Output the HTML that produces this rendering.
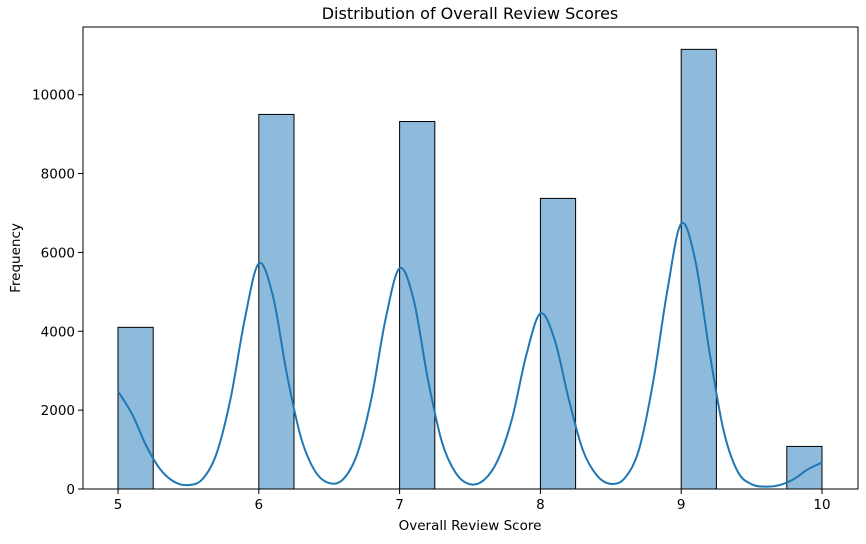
<!DOCTYPE html>
<html><head><meta charset="utf-8"><style>
html,body{margin:0;padding:0;background:#fff;}
svg text{font-family:"DejaVu Sans","Liberation Sans",sans-serif;fill:#000;}
</style></head><body>
<svg id="chart" width="866" height="539" xmlns="http://www.w3.org/2000/svg">
<text x="470" y="19" font-size="16" text-anchor="middle">Distribution of Overall Review Scores</text>
<text x="470" y="530" font-size="13.5" text-anchor="middle">Overall Review Score</text>
<text x="20" y="258" font-size="13.5" text-anchor="middle" transform="rotate(-90 20 258)">Frequency</text>
<g id="bars"></g>
<path id="kde" fill="none" stroke="#1f77b4" stroke-width="2"></path>
<rect x="83" y="27" width="775" height="462" fill="none" stroke="#000" stroke-width="1"></rect>
<g id="xticks"></g><g id="yticks"></g>
</svg>
<script>
const binStarts=[5,6,7,8,9,9.75];
const binCounts=[4100,9500,9320,7370,11150,1080];
const binWidth=0.25;
const kdeX=[5.0,5.1,5.2,5.3,5.4,5.5,5.6,5.7,5.8,5.9,6.0,6.1,6.2,6.3,6.4,6.5,6.6,6.7,6.8,6.9,7.0,7.1,7.2,7.3,7.4,7.5,7.6,7.7,7.8,7.9,8.0,8.1,8.2,8.3,8.4,8.5,8.6,8.7,8.8,8.9,9.0,9.1,9.2,9.3,9.4,9.5,9.6,9.7,9.8,9.9,10.0];
const kdeY=[2480,1900,1100,500,180,100,250,900,2300,4300,5720,4900,2900,1300,450,150,250,900,2300,4300,5600,4800,2800,1200,400,120,230,750,1800,3400,4450,3800,2300,1000,350,130,280,1000,2700,5000,6730,5800,3500,1500,450,120,60,100,250,500,670];
const xTicks=[5,6,7,8,9,10];
const yTicks=[0,2000,4000,6000,8000,10000];
const NS="http://www.w3.org/2000/svg";
const X=v=>118+(v-5)*140.8;
const Y=v=>489-v*0.03943;
const bars=document.getElementById('bars');
binStarts.forEach((s,i)=>{
 const r=document.createElementNS(NS,'rect');
 r.setAttribute('x',X(s));r.setAttribute('y',Y(binCounts[i]));
 r.setAttribute('width',X(s+binWidth)-X(s));r.setAttribute('height',Y(0)-Y(binCounts[i]));
 r.setAttribute('fill','#8ebbdc');r.setAttribute('stroke','#000');r.setAttribute('stroke-width','1');
 
 
 bars.appendChild(r);
});
const pts=kdeX.map((x,i)=>[X(x),Y(kdeY[i])]);
let d='M'+pts[0][0]+','+pts[0][1];
for(let i=0;i<pts.length-1;i++){
 const p0=pts[Math.max(0,i-1)],p1=pts[i],p2=pts[i+1],p3=pts[Math.min(pts.length-1,i+2)];
 const c1=[p1[0]+(p2[0]-p0[0])/6,p1[1]+(p2[1]-p0[1])/6];
 const c2=[p2[0]-(p3[0]-p1[0])/6,p2[1]-(p3[1]-p1[1])/6];
 d+=` C${c1[0]},${c1[1]} ${c2[0]},${c2[1]} ${p2[0]},${p2[1]}`;
}
document.getElementById('kde').setAttribute('d',d);
const xt=document.getElementById('xticks');
xTicks.forEach(t=>{
 const l=document.createElementNS(NS,'line');
 l.setAttribute('x1',X(t));l.setAttribute('x2',X(t));l.setAttribute('y1',489);l.setAttribute('y2',494);l.setAttribute('stroke','#000');
 
 
 xt.appendChild(l);
 const tx=document.createElementNS(NS,'text');
 tx.setAttribute('x',X(t));tx.setAttribute('y',509);tx.setAttribute('font-size','13.5');tx.setAttribute('text-anchor','middle');
 tx.textContent=t;
 
 
 xt.appendChild(tx);
});
const yt=document.getElementById('yticks');
yTicks.forEach(t=>{
 const l=document.createElementNS(NS,'line');
 l.setAttribute('x1',78);l.setAttribute('x2',83);l.setAttribute('y1',Y(t));l.setAttribute('y2',Y(t));l.setAttribute('stroke','#000');
 
 
 yt.appendChild(l);
 const tx=document.createElementNS(NS,'text');
 tx.setAttribute('x',75);tx.setAttribute('y',Y(t)+5);tx.setAttribute('font-size','13.5');tx.setAttribute('text-anchor','end');
 tx.textContent=t;
 
 
 yt.appendChild(tx);
});
</script>
</body></html>
